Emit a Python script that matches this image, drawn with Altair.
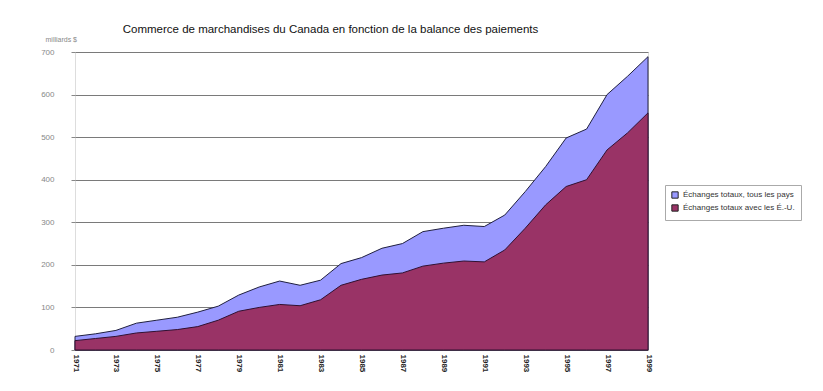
import altair as alt
import pandas as pd

years = list(range(1971, 2000))
total = [32, 38, 46, 63, 70, 77, 89, 103, 129, 148, 162, 152, 164, 203, 217, 239, 250, 278, 286,
         293, 290, 317, 372, 431, 498, 519, 600, 643, 689]
usa = [22, 27, 32, 40, 44, 48, 55, 70, 91, 100, 107, 104, 118, 152, 166, 176, 181, 197, 204,
       209, 207, 235, 286, 341, 384, 400, 470, 510, 557]

s_total = "Échanges totaux, tous les pays"
s_usa = "Échanges totaux avec les É.-U."
y_ticks = [0, 100, 200, 300, 400, 500, 600, 700]
x_ticks = list(range(1971, 2000, 2))

df = pd.DataFrame({"annee": years, "total": total, "usa": usa})
df["s_total"] = s_total
df["s_usa"] = s_usa

color_scale = alt.Scale(domain=[s_total, s_usa], range=["#9999ff", "#993366"])

x_enc = alt.X("annee:Q", scale=alt.Scale(domain=[1971, 1999], nice=False, zero=False),
              axis=alt.Axis(values=x_ticks, format="d", labelAngle=90, labelAlign="left",
                            labelBaseline="middle", labelFontWeight="bold", labelFontSize=8,
                            labelColor="#222222", labelPadding=4, tickSize=0, domain=False,
                            grid=False, title=None, labelFont="Liberation Sans"))

y_axis = alt.Axis(values=y_ticks, format="d", labelFontSize=8, labelColor="#888888",
                  labelFont="Liberation Sans", labelPadding=17, tickSize=4, tickColor="#888888",
                  domain=False, grid=True, gridColor="#7a7a7a", gridWidth=1,
                  title="milliards $", titleAngle=0, titleX=-30, titleY=-10, titleAlign="left",
                  titleBaseline="bottom", titleFontSize=7, titleFontWeight="normal",
                  titleColor="#888888", titleFont="Liberation Sans")

legend = alt.Legend(title=None, orient="none", legendX=590, legendY=133, fillColor="white",
                    strokeColor="#aaaaaa", padding=6, symbolType="square", symbolSize=40,
                    symbolStrokeColor="#222222", symbolStrokeWidth=1, labelFontSize=8,
                    labelColor="#333333", labelFont="Liberation Sans", labelLimit=200,
                    rowPadding=1, labelOffset=4)

area_total = alt.Chart(df).mark_area(stroke="#202040", strokeWidth=1, opacity=1).encode(
    x=x_enc,
    y=alt.Y("total:Q", scale=alt.Scale(domain=[0, 700], nice=False), axis=y_axis),
    color=alt.Color("s_total:N", scale=color_scale, legend=legend),
)

area_usa = alt.Chart(df).mark_area(stroke="#301030", strokeWidth=1, opacity=1).encode(
    x=x_enc,
    y=alt.Y("usa:Q"),
    color=alt.Color("s_usa:N", scale=color_scale, legend=legend),
)

chart = alt.layer(area_total, area_usa).properties(
    width=573, height=298,
    autosize=alt.AutoSizeParams(type="none"),
    padding={"left": 67, "top": 44, "right": 160, "bottom": 28},
    title=alt.Title("Commerce de marchandises du  Canada en fonction de la balance des paiements",
                    fontSize=11.5, fontWeight="normal", font="Liberation Sans", color="#111111",
                    anchor="middle", dx=-31, offset=0),
).configure_view(fill="#c0c0c0", stroke="#808080", strokeWidth=1.5).configure(background="white")

chart.save("out.html", embed_options={"renderer": "svg", "actions": False})
